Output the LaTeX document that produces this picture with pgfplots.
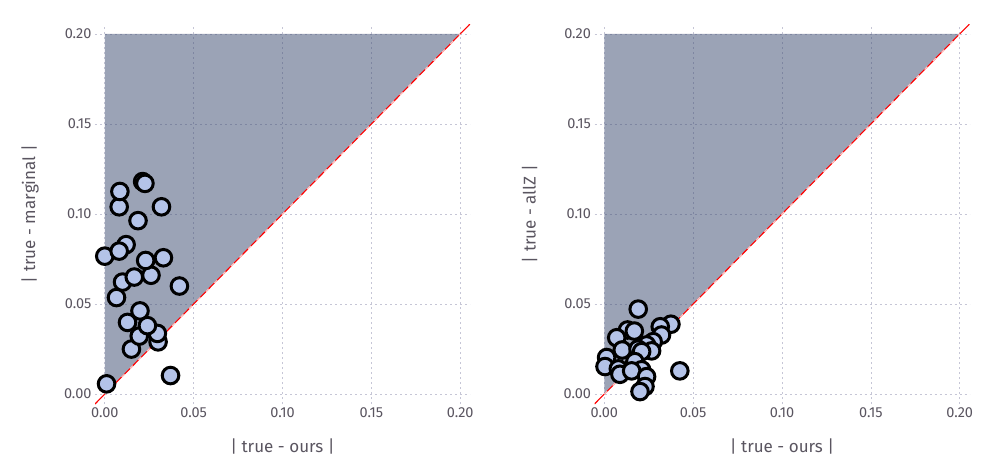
\documentclass[border=0pt]{standalone}
\usepackage{pgfplots}
\pgfplotsset{compat=1.18}
\usepackage{fontspec}
\setmainfont{Fira Sans}
\definecolor{txt}{HTML}{5A5560}
\definecolor{regfill}{HTML}{38476E}
\definecolor{gridc}{HTML}{C6C6D6}
\definecolor{mk}{HTML}{B4C3E8}
\pgfplotsset{
  myax/.style={
    scale only axis, width=375pt, height=380pt,
    anchor=south west,
    xmin=-0.0055, xmax=0.2055, ymin=-0.0055, ymax=0.2055,
    xtick={0,0.05,0.1,0.15,0.2}, ytick={0,0.05,0.1,0.15,0.2},
    grid=major,
    major grid style={color=gridc, line width=0.7pt, dash pattern=on 2pt off 3pt},
    axis line style={draw=none}, major tick length=0pt, tick style={draw=none},
    /pgf/number format/.cd, fixed, fixed zerofill, precision=2, assume math mode=true,
    /pgfplots/.cd,
    ticklabel style={font=\fontsize{14.5}{16}\selectfont, text=txt},
    label style={font=\fontsize{17}{20}\selectfont, text=txt},
    xlabel style={at={(axis description cs:0.5,-0.113)}, anchor=center},
    ylabel style={at={(axis description cs:-0.173,0.5)}, anchor=center},
  },
  myfill/.style={fill=regfill, fill opacity=0.5, draw=none, forget plot},
  mymarks/.style={only marks, mark=*, mark size=8.3pt, mark options={fill=mk, draw=black, line width=3pt}},
}
\begin{document}
\begin{tikzpicture}
\useasboundingbox (0,0) rectangle (995pt,475pt);
\begin{axis}[myax, at={(95pt,71pt)}, xlabel={| true - ours |}, ylabel={| true - marginal |}]
\addplot[myfill] coordinates {(0,0) (0,0.2) (0.2,0.2) (0,0)};
\addplot[red, line width=1.1pt] coordinates {(-0.0055,-0.0055) (0.2055,0.2055)};
\addplot[white, opacity=0.75, line width=1.2pt, dash pattern=on 4pt off 8pt] coordinates {(0,0) (0.2,0.2)};
\addplot[mymarks] table {
x y
0.0010 0.0057
0.0370 0.0103
0.0150 0.0250
0.0300 0.0290
0.0296 0.0337
0.0194 0.0322
0.0240 0.0380
0.0128 0.0398
0.0198 0.0462
0.0066 0.0536
0.0420 0.0600
0.0100 0.0622
0.0166 0.0650
0.0260 0.0660
0.0000 0.0766
0.0120 0.0830
0.0081 0.0794
0.0230 0.0742
0.0330 0.0757
0.0187 0.0963
0.0081 0.1040
0.0085 0.1125
0.0319 0.1040
0.0213 0.1180
0.0226 0.1170
};
\end{axis}
\begin{axis}[myax, at={(594.5pt,71pt)}, xlabel={| true - ours |}, ylabel={| true - allZ |}]
\addplot[myfill] coordinates {(0,0) (0,0.2) (0.2,0.2) (0,0)};
\addplot[red, line width=1.1pt] coordinates {(-0.0055,-0.0055) (0.2055,0.2055)};
\addplot[white, opacity=0.75, line width=1.2pt, dash pattern=on 4pt off 8pt] coordinates {(0,0) (0.2,0.2)};
\addplot[mymarks] table {
x y
0.0191 0.0472
0.0375 0.0388
0.0315 0.0374
0.0322 0.0328
0.0275 0.0291
0.0238 0.0273
0.0266 0.0240
0.0131 0.0356
0.0169 0.0350
0.0070 0.0313
0.0101 0.0245
0.0190 0.0250
0.0210 0.0236
0.0172 0.0180
0.0013 0.0203
0.0004 0.0153
0.0079 0.0140
0.0088 0.0110
0.0210 0.0135
0.0154 0.0129
0.0238 0.0097
0.0229 0.0042
0.0201 0.0014
0.0425 0.0129
};
\end{axis}
\end{tikzpicture}
\end{document}
